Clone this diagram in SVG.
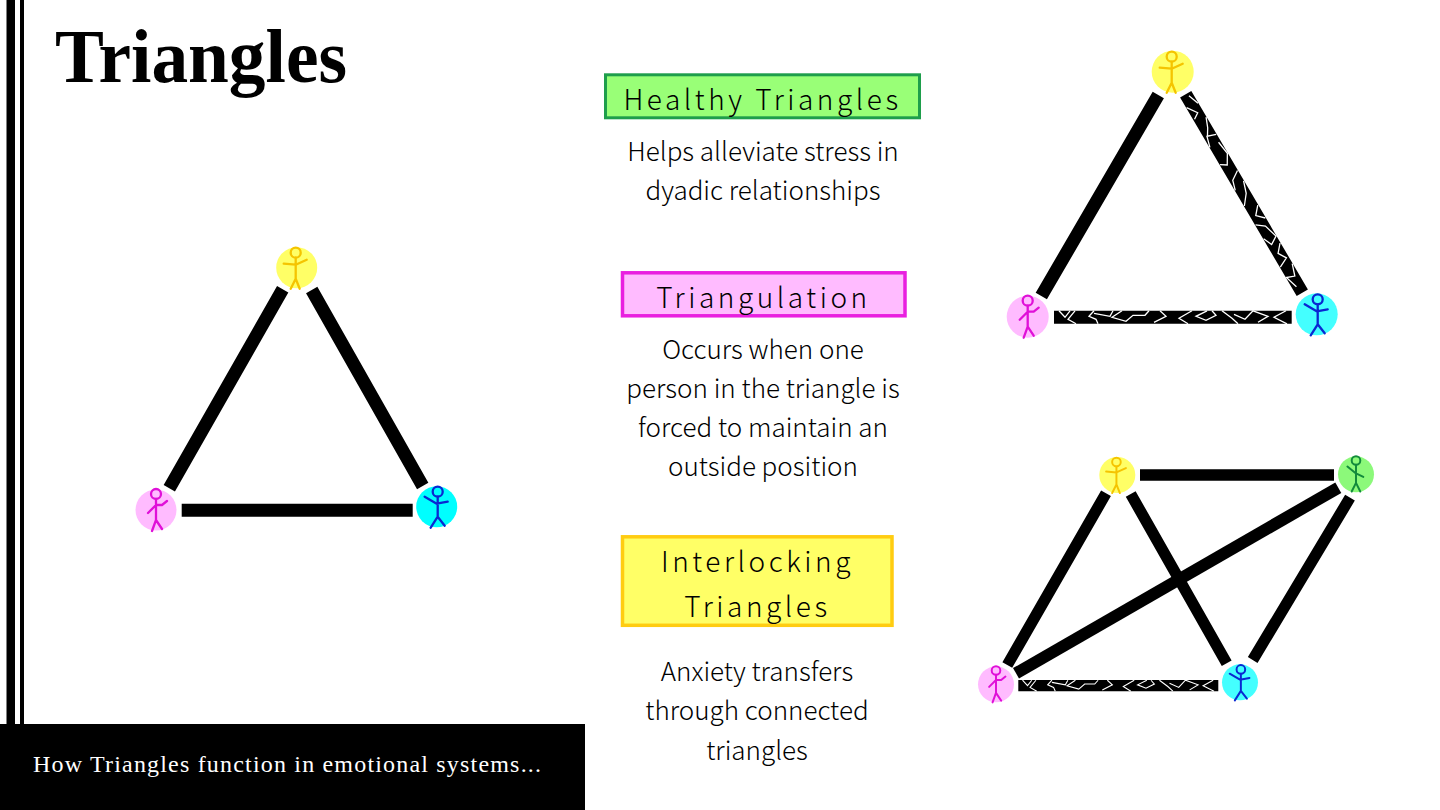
<svg xmlns="http://www.w3.org/2000/svg" width="1440" height="810" viewBox="0 0 1440 810">
<style>
.body{font-family:"Noto Sans CJK JP","Noto Sans",sans-serif;font-size:26px;font-weight:300;fill:#000;text-anchor:middle}
.head{font-family:"Noto Sans CJK JP","Noto Sans",sans-serif;font-size:28px;font-weight:300;fill:#000;text-anchor:middle;letter-spacing:3.550px}
.bar{stroke:#000;fill:none}
.crack{stroke:#fff;stroke-width:1.300;fill:none;stroke-linejoin:miter}
.fig{fill:none;stroke-width:2.300;stroke-linejoin:round;stroke-linecap:round}
</style>
<defs>
<g id="figY" class="fig" stroke="#f5c400"><circle cx="-1" cy="-15" r="5"/><path d="M-1,-10V11M-13,-4L-1,-3L10,-8M-6,21L-1,11L3,21"/></g>
<g id="figP" class="fig" stroke="#e010d8"><circle cx="0" cy="-16" r="5"/><path d="M0,-11V10M-8,3L0,-5L6,-5L11,-9M-4,21L0,10L6,19"/></g>
<g id="figC" class="fig" stroke="#0a28d2"><circle cx="1" cy="-15" r="5"/><path d="M1,-10V10M-12,-10L0,-3L11,-5M-6,21L1,10L8,19"/></g>
<g id="figG" class="fig" stroke="#128a3c"><circle cx="0" cy="-16" r="5"/><path d="M0,-11V10M-10,-9L0,-1L8.500,3M-5,20L0,10L5,20"/></g>
<path id="crackH" class="crack" d="M5,-6.500L11,0L16,-6.500M21,-6.500L14,2L22,6.500M40,-6.500L35,-1L42,2L44,6.500M40,-4L56,-1L59,-6.500M68,-6.500L58,0L72,4L79,-2L91,-2L95,-6.500M106,-6.500L112,-1L100,5M138,-6.500L125,1L134,6.500M153,-6.500L142,-1L152,3L162,-2L158,-6.500M168,-6.500L178,1L184,6.500M180,-3L191,2L199,-6.500L214,-1L204,5M232,-6.500L220,0L233,6.500"/>
<path id="crackD" class="crack" d="M3,-2L14,-6M12,6L22,-1L26,5M30,-6L40,-2L48,3M50,-6L47,3L58,6M58,-4L72,-6L82,0L78,6M92,-6L98,3L108,6M104,-6L116,-2L126,6M132,-6L140,1L147,-6M148,6L154,-2L168,-6L173,2L164,6M176,-6L184,1L192,-4L197,6M200,-6L212,-2L209,6L222,2"/>
</defs>
<g id="background">
<rect width="1440" height="810" fill="#fff"/>
<rect x="6.500" y="0" width="8.500" height="725" fill="#000"/>
<rect x="20" y="0" width="4" height="725" fill="#000"/>
<rect x="0" y="724" width="585" height="86" fill="#000"/>
</g>
<text id="title" x="55" y="82" font-family="Liberation Serif, serif" font-weight="700" font-size="76" textLength="292" lengthAdjust="spacingAndGlyphs" fill="#000">Triangles</text>
<text id="subtitle" x="33" y="772" font-family="Liberation Serif, serif" font-size="24" textLength="508" fill="#fff">How Triangles function in emotional systems...</text>

<g id="connectors">
<g class="bar" stroke-width="13">
<path d="M282.700,289.300L169.300,488.300M311.700,290L422.700,486M181.700,510.300H412.700"/>
<path d="M1158.300,95L1041.300,296M1185.700,94.300L1302.300,292.700"/>
<path d="M1054,317.300H1291.700"/>
</g>
<g class="bar" stroke-width="11.300">
<path d="M1140,475H1334M1106,493.300L1007.300,665M1130.700,494L1226.700,663.300M1350,497.700L1252.700,660M1018.300,685.700H1218.300"/>
<path d="M1338.300,487.700L1016,673.300" stroke-width="12"/>
</g>
<use href="#crackH" transform="translate(1054,317.300)"/>
<use href="#crackD" transform="translate(1185.700,94.300) rotate(59.560)"/>
<use href="#crackH" transform="translate(1018.300,685.700) scale(.84,.84)"/>
</g>

<g id="nodes-left">
<g id="left-yellow" transform="translate(296.700,267.700)"><circle r="20.500" fill="#ffff66"/><use href="#figY"/></g>
<g id="left-pink" transform="translate(156,510)"><circle r="20.500" fill="#ffbbff"/><use href="#figP"/></g>
<g id="left-cyan" transform="translate(436.700,506.700)"><circle r="20.500" fill="#00ffff"/><use href="#figC"/></g>
</g>
<g id="nodes-healthy">
<g id="top-yellow" transform="translate(1172.700,71.700)"><circle r="21" fill="#ffff66"/><use href="#figY"/></g>
<g id="top-pink" transform="translate(1027.700,316.700)"><circle r="21" fill="#ffbbff"/><use href="#figP"/></g>
<g id="top-cyan" transform="translate(1316.700,314.300)"><circle r="21" fill="#44ffff"/><use href="#figC"/></g>
</g>
<g id="nodes-interlocking">
<g id="bot-yellow" transform="translate(1117.300,475)"><circle r="18" fill="#ffff66"/><use href="#figY" transform="scale(.86)"/></g>
<g id="bot-green" transform="translate(1356,474.300)"><circle r="18" fill="#8cf97a"/><use href="#figG" transform="scale(.86)"/></g>
<g id="bot-pink" transform="translate(996,684.300)"><circle r="18" fill="#ffbbff"/><use href="#figP" transform="scale(.86)"/></g>
<g id="bot-cyan" transform="translate(1240,682.300)"><circle r="18" fill="#44ffff"/><use href="#figC" transform="scale(.86)"/></g>
</g>

<g id="healthy">
<rect x="605.500" y="74.800" width="314" height="43" fill="#99ff77" stroke="#1e9e4b" stroke-width="3"/>
<text class="head" x="762.500" y="110">Healthy Triangles</text>
<text class="body" x="763" y="161">Helps alleviate stress in</text>
<text class="body" x="763" y="200">dyadic relationships</text>
</g>
<g id="triangulation">
<rect x="622.500" y="272.800" width="282.500" height="43" fill="#ffbbff" stroke="#e91fe0" stroke-width="3.500"/>
<text class="head" x="763.500" y="308">Triangulation</text>
<text class="body" x="763" y="359">Occurs when one</text>
<text class="body" x="763" y="398">person in the triangle is</text>
<text class="body" x="763" y="437">forced to maintain an</text>
<text class="body" x="763" y="476">outside position</text>
</g>
<g id="interlocking">
<rect x="622.500" y="536.800" width="269.500" height="88.500" fill="#ffff66" stroke="#ffcc11" stroke-width="3.500"/>
<text class="head" x="757.500" y="572">Interlocking</text>
<text class="head" x="757.500" y="617">Triangles</text>
<text class="body" x="757" y="681">Anxiety transfers</text>
<text class="body" x="757" y="720">through connected</text>
<text class="body" x="757" y="760">triangles</text>
</g>
</svg>
